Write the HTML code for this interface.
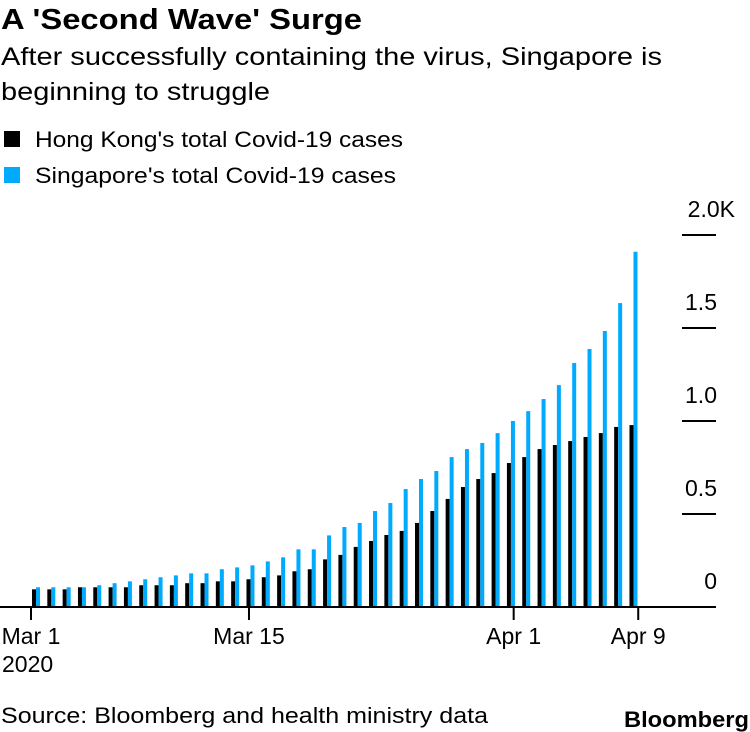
<!DOCTYPE html>
<html><head><meta charset="utf-8"><style>
body{margin:0;background:#fff;font-family:"Liberation Sans",sans-serif;color:#000}
#wrap{position:relative;width:750px;height:732px;overflow:hidden}
</style></head><body>
<div id="wrap">
<svg id="svg" width="750" height="732" xmlns="http://www.w3.org/2000/svg" font-family="Liberation Sans, sans-serif">
<text x="1" y="29" font-size="29" font-weight="bold" textLength="361" lengthAdjust="spacingAndGlyphs">A 'Second Wave' Surge</text>
<text x="1" y="65" font-size="25" textLength="661" lengthAdjust="spacingAndGlyphs">After successfully containing the virus, Singapore is</text>
<text x="1" y="100" font-size="25" textLength="269" lengthAdjust="spacingAndGlyphs">beginning to struggle</text>
<rect x="4" y="131" width="16" height="16" fill="#000"/>
<text x="35" y="147" font-size="22" textLength="368" lengthAdjust="spacingAndGlyphs">Hong Kong's total Covid-19 cases</text>
<rect x="4" y="167" width="16" height="16" fill="#00aaff"/>
<text x="35" y="183" font-size="22" textLength="361" lengthAdjust="spacingAndGlyphs">Singapore's total Covid-19 cases</text>
<g id="bars"></g>
<g id="axes"></g>
<text x="1" y="723" font-size="22" textLength="487" lengthAdjust="spacingAndGlyphs">Source: Bloomberg and health ministry data</text>
<text x="624" y="727" font-size="22" font-weight="bold" textLength="125" lengthAdjust="spacingAndGlyphs">Bloomberg</text>
</svg>
</div>
<script>
const hongKong = [95,95,95,106,106,106,106,117,117,117,128,128,138,138,149,160,170,192,203,256,280,323,355,387,409,452,516,581,645,688,720,774,806,849,871,892,914,935,968,978];
const singapore = [106,106,106,106,117,128,138,149,160,170,181,181,203,213,224,245,267,310,310,385,430,452,516,559,634,688,731,806,849,882,935,1000,1053,1118,1193,1312,1387,1484,1634,1910];
const yTicks = [0,500,1000,1500,2000];
const yTickLabels = ["0","0.5","1.0","1.5","2.0K"];
const xTickDays = [0,14,31,39];
const xTickLabels = ["Mar 1","Mar 15","Apr 1","Apr 9"];

const NS="http://www.w3.org/2000/svg";
const y0=607, pxPer=0.186;
const yScale=v=>y0-v*pxPer;
const barX=i=>32+i*15.32;
const tickX=d=>31+d*15.57;
function mk(tag,attrs,parent){const e=document.createElementNS(NS,tag);for(const k in attrs)e.setAttribute(k,attrs[k]);parent.appendChild(e);return e;}
const bars=document.getElementById('bars'), axes=document.getElementById('axes');
hongKong.forEach((v,i)=>{
  const r=mk('rect',{x:barX(i),y:yScale(v),width:4,height:y0-yScale(v),fill:'#000'},bars);
  
  
});
singapore.forEach((v,i)=>{
  const r=mk('rect',{x:barX(i)+4,y:yScale(v),width:4,height:y0-yScale(v),fill:'#00aaff'},bars);
  
  
});
yTicks.forEach((v,i)=>{
  const y=yScale(v);
  if(v>0){const l=mk('line',{x1:682,x2:716,y1:y,y2:y,stroke:'#000','stroke-width':2},axes);
  
  }
  const lab=yTickLabels[i];
  const hasK=lab.endsWith('K');
  const t=mk('text',{x:hasK?735:717,y:y-18,'font-size':23,'text-anchor':'end'},axes);
  t.textContent=lab;
  
  
});
const base=mk('line',{x1:0,x2:716,y1:y0,y2:y0,stroke:'#000','stroke-width':2},axes);


xTickDays.forEach((d,i)=>{
  const x=tickX(d);
  const l=mk('line',{x1:x,x2:x,y1:y0,y2:620,stroke:'#000','stroke-width':2},axes);
  
  
  const t=mk('text',{x:x,y:644,'font-size':23,'text-anchor':'middle'},axes);
  t.textContent=xTickLabels[i];
  
  
});
const yr=mk('text',{x:2,y:672,'font-size':23},axes);
yr.textContent="2020";


</script>
</body></html>
